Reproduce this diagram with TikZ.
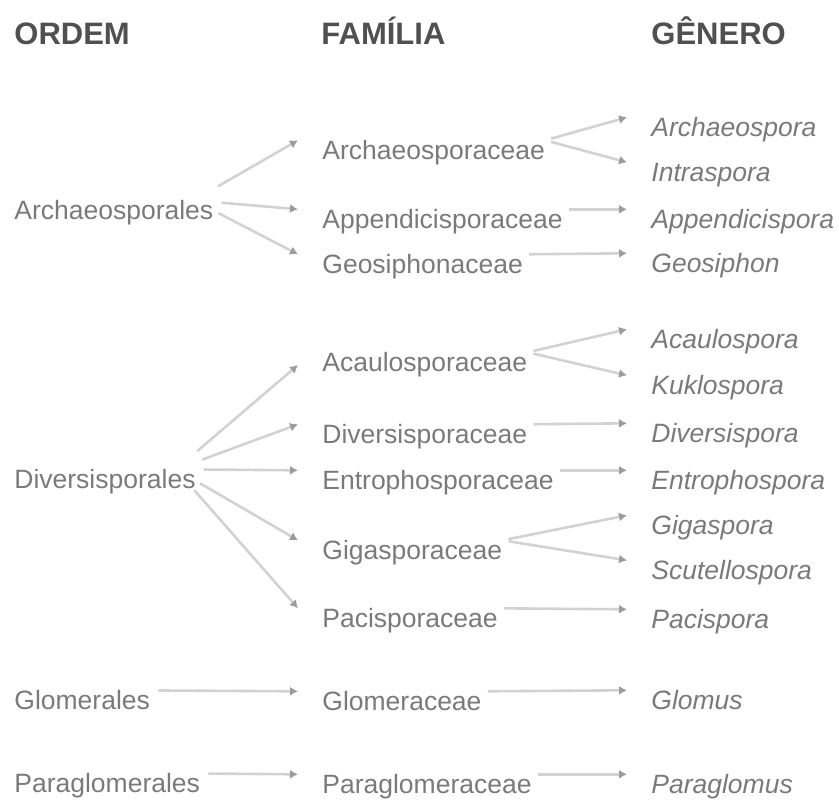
\documentclass[tikz,border=0pt]{standalone}
\usepackage{fontspec}
\setmainfont{Liberation Sans}
\usetikzlibrary{arrows.meta}
\definecolor{ink}{HTML}{7A7A7A}
\definecolor{inkdark}{HTML}{505050}
\definecolor{grayline}{HTML}{D2D2D2}
\definecolor{graytip}{HTML}{9C9C9C}

\begin{document}
\begin{tikzpicture}[x=0.5pt,y=-0.5pt,
  head/.style={anchor=west,inner sep=0pt,text=inkdark,text height=11.1pt,text depth=0pt,
    font=\fontsize{15.5}{18}\selectfont\bfseries},
  taxon/.style={anchor=west,inner sep=0pt,text=ink,text height=9.5pt,text depth=2.8pt,
    font=\fontsize{13.25}{15}\selectfont},
  genus/.style={taxon,font=\fontsize{13.25}{15}\selectfont\itshape},
  link/.style={draw=grayline,line width=1.3pt,-{Latex[length=4pt,width=4.5pt,color=graytip]}}
]
\useasboundingbox (0,0) rectangle (839,803);
% column heads
\node[head] (hOrd) at (14,33) {ORDEM};
\node[head] (hFam) at (321,33) {FAMÍLIA};
\node[head] (hGen) at (651,33) {GÊNERO};
% ordens
\node[taxon] (ordArch) at (14,213) {Archaeosporales};
\node[taxon] (ordDiv) at (14,482) {Diversisporales};
\node[taxon] (ordGlo) at (14,703) {Glomerales};
\node[taxon] (ordPara) at (14,786) {Paraglomerales};
% familias
\node[taxon] (famArch) at (322,153) {Archaeosporaceae};
\node[taxon] (famApp) at (322,222) {Appendicisporaceae};
\node[taxon] (famGeo) at (322,267) {Geosiphonaceae};
\node[taxon] (famAcau) at (322,365) {Acaulosporaceae};
\node[taxon] (famDiv) at (322,437) {Diversisporaceae};
\node[taxon] (famEntro) at (322,483) {Entrophosporaceae};
\node[taxon] (famGiga) at (322,553) {Gigasporaceae};
\node[taxon] (famPaci) at (322,621) {Pacisporaceae};
\node[taxon] (famGlo) at (322,704) {Glomeraceae};
\node[taxon] (famPara) at (322,787) {Paraglomeraceae};
% generos
\node[genus] (genArch) at (651,130) {Archaeospora};
\node[genus] (genIntra) at (651,175) {Intraspora};
\node[genus] (genApp) at (651,222) {Appendicispora};
\node[genus] (genGeo) at (651,266) {Geosiphon};
\node[genus] (genAcau) at (651,342) {Acaulospora};
\node[genus] (genKuk) at (651,388) {Kuklospora};
\node[genus] (genDiv) at (651,436) {Diversispora};
\node[genus] (genEntro) at (651,483) {Entrophospora};
\node[genus] (genGiga) at (651,528) {Gigaspora};
\node[genus] (genScut) at (651,573) {Scutellospora};
\node[genus] (genPaci) at (651,622) {Pacispora};
\node[genus] (genGlo) at (651,703) {Glomus};
\node[genus] (genPara) at (651,787) {Paraglomus};
% ordem -> familia
\foreach \o/\f in {ordArch/famArch.north west,ordArch/famApp.north west,
    ordArch/famGeo.north west,ordDiv/famAcau.west,ordDiv/famDiv.north west,
    ordDiv/famEntro.north west,ordDiv/famGiga.north west,ordDiv/famPaci.north west,
    ordGlo/famGlo.north west,ordPara/famPara.north west}
  \draw[link,shorten <=14pt] ([xshift=-10pt]\o.north east) -- ([xshift=-12pt]\f);
% familia -> genero
\foreach \f/\g in {famArch/genArch,famArch/genIntra,famApp/genApp,famGeo/genGeo,
    famAcau/genAcau,famAcau/genKuk,famDiv/genDiv,famEntro/genEntro,
    famGiga/genGiga,famGiga/genScut,famPaci/genPaci,famGlo/genGlo,famPara/genPara}
  \draw[link,shorten <=3pt] (\f.north east) -- ([xshift=-12pt]\g.north west);
\end{tikzpicture}
\end{document}
